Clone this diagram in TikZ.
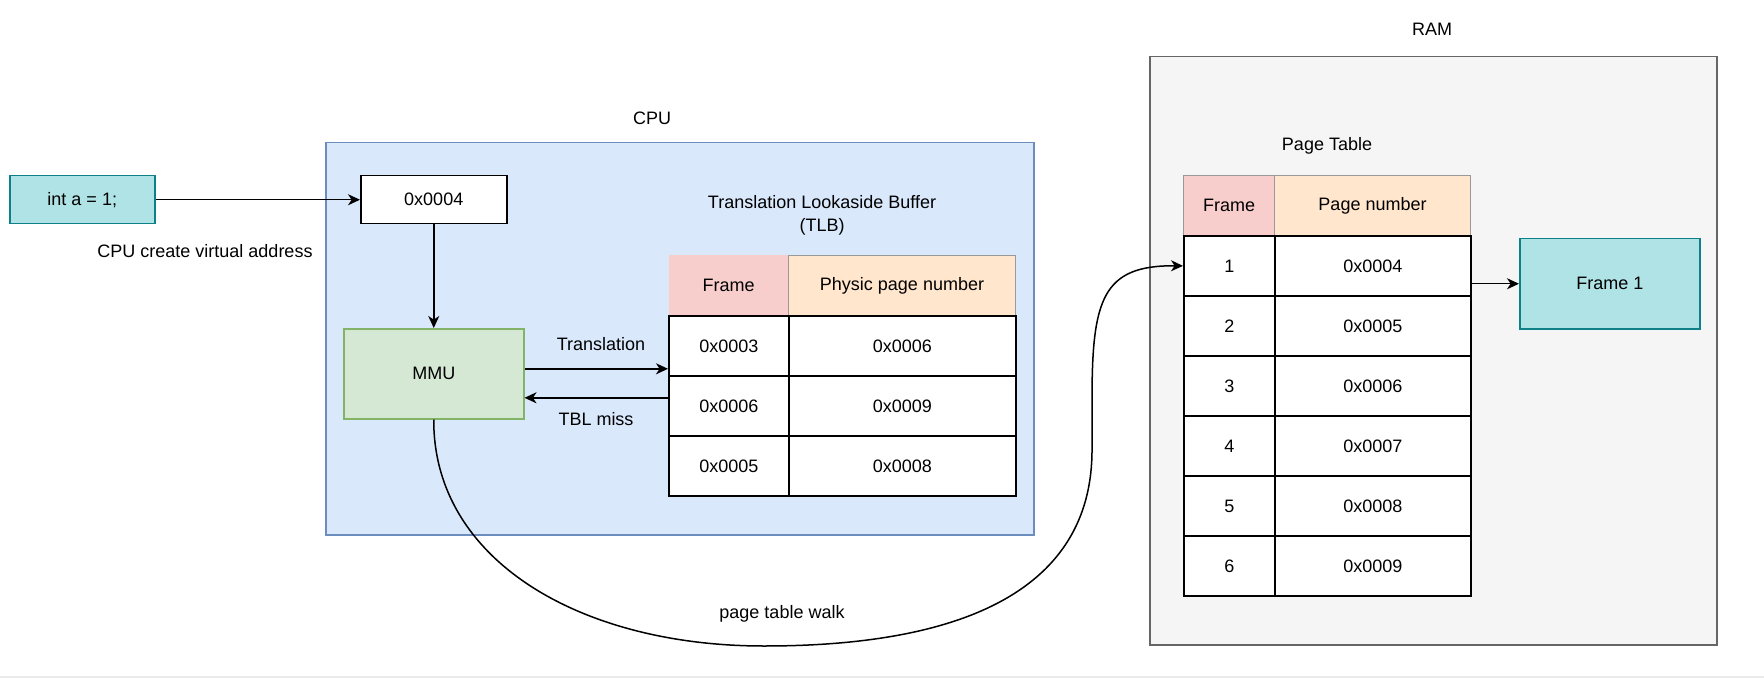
\documentclass[tikz,border=0pt]{standalone}
\usepackage{fontspec}
\setmainfont{Liberation Sans}
\usetikzlibrary{arrows.meta,positioning}
\definecolor{cpuFill}{HTML}{DAE8FC}
\definecolor{cpuLine}{HTML}{6C8EBF}
\definecolor{mmuFill}{HTML}{D5E8D4}
\definecolor{mmuLine}{HTML}{82B366}
\definecolor{tealFill}{HTML}{B0E3E6}
\definecolor{tealLine}{HTML}{0E8088}
\definecolor{ramFill}{HTML}{F5F5F5}
\definecolor{ramLine}{HTML}{666666}
\definecolor{headPink}{HTML}{F8CECC}
\definecolor{headOrange}{HTML}{FFE6CC}
\tikzset{
 vm frame/.style={anchor=north west,inner sep=0pt,line width=.75pt},
 vm block/.style={anchor=north west,inner sep=0pt,line width=.75pt,minimum height=24pt},
 vm cell/.style={anchor=north west,inner sep=0pt,draw=black,fill=white,
                 line width=.9pt,minimum height=30pt},
 vm head/.style={anchor=north west,inner sep=0pt,line width=.5pt,minimum height=30pt},
 vm link/.style={->,line width=.75pt},
 vm label/.style={inner sep=1pt}
}
\begin{document}
\begin{tikzpicture}[x=.5pt,y=-.5pt,font=\fontsize{9}{11.5}\selectfont,
  >={Stealth[length=6pt,width=5.5pt,inset=1.8pt]}]
 \useasboundingbox (0,0) rectangle (1764,678);
 \draw[black!8,line width=1pt] (0,677)--(1764,677);

 % containers
 \node[vm frame,draw=cpuLine,fill=cpuFill,minimum width=354pt,minimum height=196pt] (cpu) at (325,142) {};
 \node[vm frame,draw=ramLine,fill=ramFill,minimum width=283.5pt,minimum height=294pt] (ram) at (1149,56) {};
 \node[vm label] (cpulbl) at (652,118) {CPU};
 \node[vm label] (ramlbl) at (1432,29) {RAM};

 % virtual address side
 \node[vm block,draw=tealLine,fill=tealFill,minimum width=72.5pt] (code) at (9,175) {int a = 1;};
 \node[vm block,draw=black,fill=white,minimum width=73pt] (vaddr) at (360,175) {0x0004};
 \node[vm label] (vlbl) at (205,251) {CPU create virtual address};
 \node[vm block,draw=mmuLine,fill=mmuFill,minimum width=90pt,minimum height=45pt] (mmu) at (343,328) {MMU};

 % TLB
 \node[vm label,align=center] (tlblbl) at (822,215) {Translation Lookaside Buffer\\(TLB)};
 \node[vm head,fill=headPink,minimum width=60pt] (tfh) at (668,255) {Frame};
 \node[vm head,fill=headOrange,draw=black!40,minimum width=113.5pt] (tph) at (788,255) {Physic page number};
 \foreach \f/\p [count=\i] in {0x0003/0x0006,0x0006/0x0009,0x0005/0x0008}{
  \node[vm cell,minimum width=60pt] (tf\i) at (668,255+60*\i) {\f};
  \node[vm cell,minimum width=113.5pt] (tp\i) at (788,255+60*\i) {\p};
 }

 % page table
 \node[vm label] (ptlbl) at (1327,146) {Page Table};
 \node[vm head,fill=headPink,draw=black!40,minimum width=45.5pt] (pfh) at (1183,175) {Frame};
 \node[vm head,fill=headOrange,draw=black!40,minimum width=98pt] (pph) at (1274,175) {Page number};
 \foreach \p [count=\i] in {0x0004,0x0005,0x0006,0x0007,0x0008,0x0009}{
  \node[vm cell,minimum width=45.5pt] (pf\i) at (1183,175+60*\i) {\i};
  \node[vm cell,minimum width=98pt] (pp\i) at (1274,175+60*\i) {\p};
 }
 \node[vm block,draw=tealLine,fill=tealFill,minimum width=90pt,minimum height=45pt] (frame1) at (1519,238) {Frame 1};

 % connectors
 \coordinate (tlbin) at ([yshift=4pt]tf1.south west);
 \coordinate (tlbout) at ([yshift=-10.5pt]tf1.south west);
 \draw[vm link] (code)--(vaddr);
 \draw[vm link] (vaddr)--(mmu);
 \draw[vm link] (mmu.east |- tlbin)--(tlbin);
 \draw[vm link] (tlbout)--(mmu.east |- tlbout);
 \node[vm label] (transl) at (601,344) {Translation};
 \node[vm label] (miss) at (596,419) {TBL miss};
 \draw[vm link] (frame1.west -| pp1.east)--(frame1.west);
 \draw[vm link] (mmu.south) .. controls (433,560) and (580,646) .. (764,646)
   .. controls (980,646) and (1092,580) .. (1092,450) -- (1092,400)
   .. controls (1092,300) and (1102,265) .. (pf1.west);
 \node[vm label] (walk) at (782,614) {page table walk};
\end{tikzpicture}
\end{document}
